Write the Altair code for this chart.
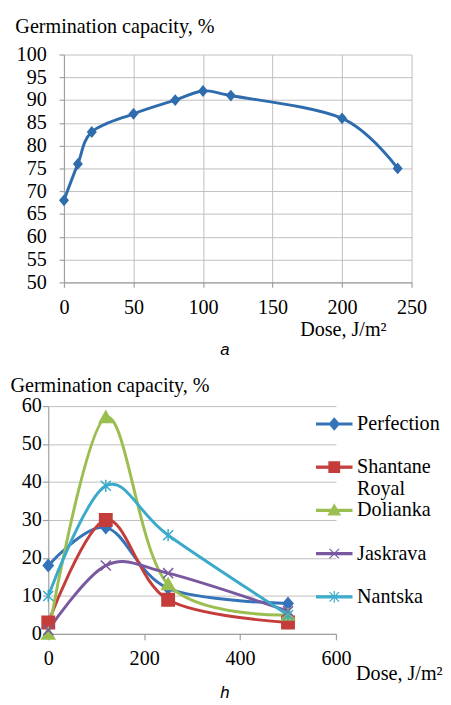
import altair as alt
import pandas as pd

# ---------------- data: panel a ----------------
dose_a = [0, 10, 20, 50, 80, 100, 120, 200, 240]
germ_a = [68, 76, 83, 87, 90, 92, 91, 86, 75]
x_ticks_a = [0, 50, 100, 150, 200, 250]
y_ticks_a = [50, 55, 60, 65, 70, 75, 80, 85, 90, 95, 100]

# ---------------- data: panel b ----------------
dose_b = [0, 120, 250, 500]
series_names = ["Perfection", "Shantane Royal", "Dolianka", "Jaskrava", "Nantska"]
perfection = [18, 28, 12, 8]
shantane = [3, 30, 9, 3]
dolianka = [0, 57, 13, 5]
jaskrava = [1, 18, 16, 6]
nantska = [10, 39, 26, 5]
x_ticks_b = [0, 200, 400, 600]
y_ticks_b = [0, 10, 20, 30, 40, 50, 60]

# ---------------- styles ----------------
SERIF = "Liberation Serif"
FS = 20.5
GRID = "#BFBFBF"
AXISC = "#A0A0A0"
BLUE_A = "#2E6CAE"
colors = ["#3573B9", "#C43D3A", "#9BBE50", "#7A58A0", "#3BAACA"]

marker_paths = [
    "M0,-1L0.85,0L0,1L-0.85,0Z",
    "M-1.05,-1.05H1.05V1.05H-1.05Z",
    "M0,-1.1L1.1,0.85H-1.1Z",
    "M-0.85,-0.85L0.85,0.85M-0.85,0.85L0.85,-0.85",
    "M-0.85,-0.85L0.85,0.85M-0.85,0.85L0.85,-0.85M0,-1.05V1.05",
]
LINE_SEG = "M-3,-0.17H3V0.17H-3Z"
legend_paths = [LINE_SEG + p for p in [
    "M0,-1L0.85,0L0,1L-0.85,0Z",
    "M-0.9,-0.9H0.9V0.9H-0.9Z",
    "M0,-1L1,0.75H-1Z",
    "M-0.8,-0.8L0.8,0.8M-0.8,0.8L0.8,-0.8",
    "M-0.8,-0.8L0.8,0.8M-0.8,0.8L0.8,-0.8M0,-1V1",
]]

axis_common = dict(
    labelFont=SERIF, labelFontSize=FS, labelColor="black",
    titleFont=SERIF, titleFontSize=FS, titleColor="black", titleFontWeight="normal",
    gridColor=GRID, gridWidth=1, domainColor=AXISC, domainWidth=1.2,
    tickColor=AXISC, tickWidth=1.2, labelFlush=False, labelOverlap=False,
    titleAlign="left", titleBaseline="alphabetic",
)

# ---------------- panel a ----------------
df_a = pd.DataFrame({"dose": dose_a, "germ": germ_a})

xa = alt.X(
    "dose:Q",
    scale=alt.Scale(domain=[0, 250], range=[16, 370], nice=False, zero=False),
    axis=alt.Axis(values=x_ticks_a, grid=True, tickSize=5, labelPadding=11,
                  title="Dose, J/m²", titleX=256, titleY=54, **axis_common),
)
ya = alt.Y(
    "germ:Q",
    scale=alt.Scale(domain=[50, 100], nice=False, zero=False),
    axis=alt.Axis(values=y_ticks_a, grid=True, tickSize=5, labelPadding=13,
                  offset=-16, title="Germination capacity, %", titleAngle=0,
                  titleX=-50, titleY=-22, **axis_common),
)

line_a = alt.Chart(df_a).mark_line(
    interpolate="cardinal", color=BLUE_A, strokeWidth=3
).encode(x=xa, y=ya)
pts_a = alt.Chart(df_a).mark_point(
    shape=marker_paths[0], filled=True, size=144, color=BLUE_A, opacity=1
).encode(x=xa, y=ya)
cap_a = alt.Chart(pd.DataFrame({"cap": ["a"]})).mark_text(
    font="Liberation Sans", fontStyle="italic", fontSize=17, color="black",
    align="center", baseline="alphabetic"
).encode(text="cap:N", x=alt.value(180), y=alt.value(306))

top = alt.layer(line_a, pts_a, cap_a).properties(width=370, height=232)

# ---------------- panel b ----------------
rows = []
for name, vals in zip(series_names, [perfection, shantane, dolianka, jaskrava, nantska]):
    for d, v in zip(dose_b, vals):
        rows.append({"series": name, "dose": d, "value": v})
df_b = pd.DataFrame(rows)

xb = alt.X(
    "dose:Q",
    scale=alt.Scale(domain=[0, 600], nice=False, zero=False),
    axis=alt.Axis(values=x_ticks_b, grid=False, tickSize=6, labelPadding=9,
                  title="Dose, J/m²", titleX=313, titleY=46, **axis_common),
)
yb = alt.Y(
    "value:Q",
    scale=alt.Scale(domain=[0, 60], nice=False, zero=False),
    axis=alt.Axis(values=y_ticks_b, grid=True, tickSize=6, labelPadding=1,
                  title="Germination capacity, %", titleAngle=0,
                  titleX=-39, titleY=-15, **axis_common),
)

col_scale = alt.Scale(domain=series_names, range=colors)

line_b = alt.Chart(df_b).mark_line(interpolate="cardinal", strokeWidth=3).encode(
    x=xb, y=yb,
    color=alt.Color("series:N", scale=col_scale, legend=None),
)
pts_b = alt.Chart(df_b).mark_point(size=144, strokeWidth=1.5, opacity=1, filled=False).encode(
    x=xb, y=yb,
    color=alt.Color("series:N", scale=col_scale, legend=None),
    fill=alt.Fill("series:N", scale=col_scale, legend=None),
    shape=alt.Shape("series:N", scale=alt.Scale(domain=series_names, range=marker_paths), legend=None),
)

leg = alt.Legend(
    title=None, orient="none", legendX=281, legendY=8,
    symbolSize=144, symbolStrokeWidth=1.2, symbolOpacity=1,
    labelFont=SERIF, labelFontSize=FS, labelColor="black",
    labelOffset=13, labelBaseline="middle", rowPadding=0, gridAlign="all",
    labelExpr="datum.label == 'Shantane Royal' ? ['Shantane', 'Royal'] : datum.label",
)
leg_b = alt.Chart(df_b).transform_filter("false").mark_point(
    size=144, strokeWidth=1.2, opacity=1, filled=False
).encode(
    x=xb, y=yb,
    color=alt.Color("series:N", scale=col_scale, legend=leg),
    fill=alt.Fill("series:N", scale=col_scale, legend=leg),
    shape=alt.Shape("series:N", scale=alt.Scale(domain=series_names, range=legend_paths), legend=leg),
)
cap_b = alt.Chart(pd.DataFrame({"cap": ["h"]})).mark_text(
    font="Liberation Sans", fontStyle="italic", fontSize=17, color="black",
    align="center", baseline="alphabetic"
).encode(text="cap:N", x=alt.value(180), y=alt.value(297))

bottom = alt.layer(line_b, pts_b, leg_b, cap_b).resolve_scale(
    color="independent", fill="independent", shape="independent"
).properties(width=293, height=232)

chart = alt.vconcat(top, bottom, spacing=126, bounds="flush").properties(
    autosize=alt.AutoSizeParams(type="none"),
    padding={"left": 41, "top": 41, "right": 402, "bottom": 656},
).configure(font=SERIF).configure_view(stroke="transparent")

chart.save("out.html", embed_options={"renderer": "svg", "actions": False})
